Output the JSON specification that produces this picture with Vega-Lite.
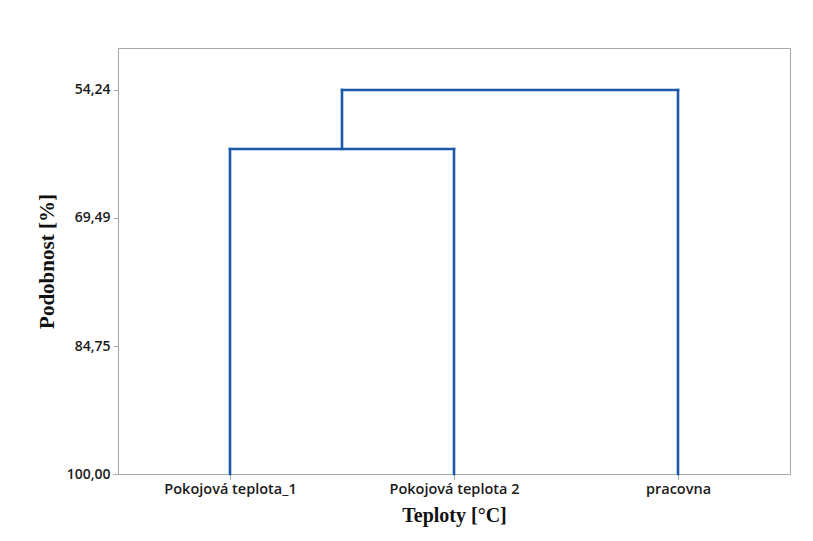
{
  "$schema": "https://vega.github.io/schema/vega-lite/v6.json",
  "width": 672,
  "height": 426,
  "autosize": {"type": "none"},
  "padding": {"left": 118, "top": 48, "right": 23, "bottom": 67},
  "background": "white",
  "config": {
    "view": {"stroke": "#a6a6a6", "strokeWidth": 1},
    "axis": {"grid": false, "domainColor": "#a6a6a6", "tickColor": "#a6a6a6", "tickSize": 5,
      "labelFont": "Open Sans", "labelFontWeight": 600, "labelColor": "#1a1a1a",
      "titleFont": "Liberation Serif", "titleFontWeight": "bold", "titleColor": "#111"}
  },
  "data": {"values": [
    {"x": 1, "x2": 1, "y": 100, "y2": 61.27},
    {"x": 2, "x2": 2, "y": 100, "y2": 61.27},
    {"x": 1, "x2": 2, "y": 61.27, "y2": 61.27},
    {"x": 1.5, "x2": 1.5, "y": 61.27, "y2": 54.24},
    {"x": 3, "x2": 3, "y": 100, "y2": 54.24},
    {"x": 1.5, "x2": 3, "y": 54.24, "y2": 54.24}
  ]},
  "mark": {"type": "rule", "color": "#1a5aa6", "strokeWidth": 2.6, "strokeCap": "square"},
  "encoding": {
    "x": {"field": "x", "type": "quantitative",
      "scale": {"domain": [0.5, 3.5], "nice": false, "zero": false},
      "axis": {"values": [1, 2, 3], "title": "Teploty [°C]", "titleFontSize": 20, "titlePadding": 10, "labelPadding": 3, "labelFontSize": 14.5,
        "labelExpr": "datum.value == 1 ? 'Pokojová teplota_1' : datum.value == 2 ? 'Pokojová teplota 2' : 'pracovna'"}},
    "x2": {"field": "x2"},
    "y": {"field": "y", "type": "quantitative",
      "scale": {"domain": [49.24, 100], "nice": false, "zero": false, "reverse": true},
      "axis": {"values": [54.24, 69.49, 84.75, 100], "title": "Podobnost [%]", "titleFontSize": 21, "titlePadding": 9, "labelPadding": 3, "labelFontSize": 14,
        "labelExpr": "replace(format(datum.value, '.2f'), '.', ',')"}},
    "y2": {"field": "y2"}
  }
}
